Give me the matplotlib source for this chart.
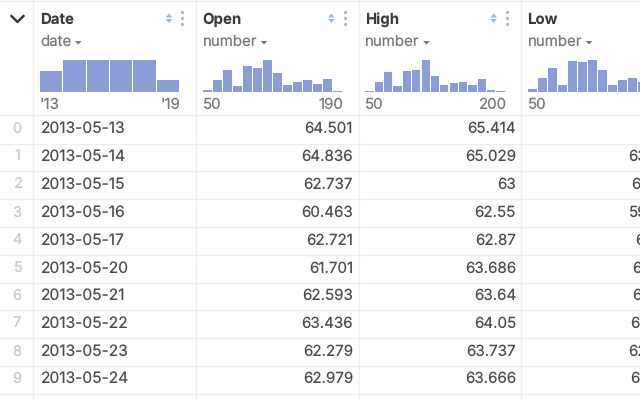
import matplotlib
matplotlib.use('Agg')
import matplotlib.pyplot as plt
import numpy as np

plt.rcParams['font.family'] = ['Inter', 'DejaVu Sans']
plt.rcParams['text.hinting'] = 'no_hinting'

# datos de la tabla
fechas = ['2013-05-13', '2013-05-14', '2013-05-15', '2013-05-16', '2013-05-17',
          '2013-05-20', '2013-05-21', '2013-05-22', '2013-05-23', '2013-05-24']
open_v = ['64.501', '64.836', '62.737', '60.463', '62.721',
          '61.701', '62.593', '63.436', '62.279', '62.979']
high_v = ['65.414', '65.029', '63', '62.55', '62.87',
          '63.686', '63.64', '64.05', '63.737', '63.666']
low_v = ['', '63.006', '60.341', '59.843', '61.651',
         '61.452', '62.201', '62.753', '62.264', '62.725']

# histogramas (bordes y conteos)
date_edges = [2013, 2014, 2015, 2016, 2017, 2018, 2019]
date_counts = [161, 252, 252, 252, 252, 94]
open_edges = list(range(50, 200, 10))
open_counts = [8, 52, 98, 26, 117, 106, 146, 84, 32, 46, 54, 34, 60, 4]
high_edges = list(range(50, 210, 10))
high_counts = [4, 46, 90, 26, 93, 98, 146, 74, 33, 39, 45, 33, 58, 8, 4]
low_edges = list(range(50, 200, 10))
low_counts = [12, 63, 106, 30, 140, 136, 146, 98, 30, 54, 64, 44, 60, 4]

W, H = 640, 400
LINEA = '#efefef'
BARRA = '#8a9dd8'
AZUL = '#9db4e0'
GRIS = '#787878'
TEXTO = '#4c4c4c'

fig = plt.figure(figsize=(6.4, 4), dpi=100)
fig.patch.set_facecolor('white')

ax = fig.add_axes([0, 0, 1, 1])
ax.set_xlim(0, W)
ax.set_ylim(H, 0)
ax.axis('off')

# lineas de la tabla
for y in [0.5, 115, 144, 171, 199, 227, 255, 283, 310, 338, 366, 393.5]:
    ax.plot([0, W], [y, y], color=LINEA, lw=1)
for x in [33, 196, 359, 521]:
    ax.plot([x, x], [0, H], color=LINEA, lw=1)

# flecha de colapsar
ax.plot([11.5, 17.5, 23.5], [16, 22, 16], color='#333333', lw=1.7)


def cabecera(x_texto, x_iconos, nombre, tipo):
    ax.text(x_texto, 20, nombre, fontsize=10.8, fontweight='bold', color='#3a3a3a',
            ha='left', va='center')
    t = ax.text(x_texto, 41.7, tipo, fontsize=10.8, color=GRIS, ha='left', va='center')
    fig.canvas.draw()
    bb = t.get_window_extent().transformed(ax.transData.inverted())
    xc = bb.x1 + 7
    ax.fill([xc - 3.4, xc + 3.4, xc], [41, 41, 44.5], color=GRIS, lw=0)
    # orden y menu (Low queda sin iconos, fuera del recorte)
    if x_iconos is None:
        return
    ax.fill([x_iconos - 3.2, x_iconos + 3.2, x_iconos], [17.5, 17.5, 13.5], color=AZUL, lw=0)
    ax.fill([x_iconos - 3.2, x_iconos + 3.2, x_iconos], [19, 19, 23], color=AZUL, lw=0)
    ax.plot([x_iconos + 13.2] * 3, [12, 18, 24], ls='', marker='o', ms=2.3, color=AZUL, mew=0)


def histograma(x0, ancho, edges, counts):
    a = fig.add_axes([x0 / W, 1 - 92 / H, ancho / W, 32.5 / H])
    edges = np.array(edges, dtype=float)
    paso = edges[1] - edges[0]
    hueco = 1.2 * (edges[-1] - edges[0]) / ancho
    a.bar(edges[:-1] + hueco / 2, counts, width=paso - hueco, align='edge', color=BARRA)
    a.set_xlim(edges[0], edges[-1])
    a.set_ylim(0, max(counts))
    a.axis('off')
    return a


cabecera(40, 169, 'Date', 'date')
cabecera(202.5, 331.3, 'Open', 'number')
cabecera(365, 493.7, 'High', 'number')
cabecera(527.5, None, 'Low', 'number')

histograma(39.5, 140, date_edges, date_counts)
histograma(202.2, 140, open_edges, open_counts)
histograma(364.8, 140.4, high_edges, high_counts)
histograma(527.5, 140, low_edges, low_counts)

# etiquetas de los histogramas
for x, ha, s in [(40, 'left', "'13"), (180.5, 'right', "'19"), (202.5, 'left', '50'),
                 (343, 'right', '190'), (365, 'left', '50'), (506, 'right', '200'),
                 (527.5, 'left', '50')]:
    ax.text(x, 104.5, s, fontsize=10.8, color=GRIS, ha=ha, va='center')

# filas
filas_y = [128.5, 156.5, 184.5, 212.5, 240.5, 268.5, 295.5, 323.5, 351.5, 378.5]
for i, y in enumerate(filas_y):
    ax.text(17, y, str(i), fontsize=10.5, color='#c8c8c8', ha='center', va='center')
    ax.text(41, y, fechas[i], fontsize=11.2, color=TEXTO, ha='left', va='center')
    ax.text(353, y, open_v[i], fontsize=10.9, color=TEXTO, ha='right', va='center')
    ax.text(516, y, high_v[i], fontsize=10.9, color=TEXTO, ha='right', va='center')
    ax.text(680, y, low_v[i], fontsize=10.9, color=TEXTO, ha='right', va='center')

fig.savefig('out.png', dpi=100)
